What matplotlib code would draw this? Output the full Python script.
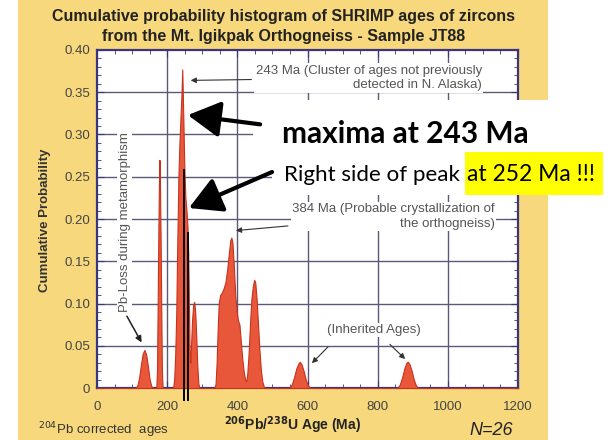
import matplotlib
matplotlib.use("Agg")
from matplotlib import pyplot as plt
from matplotlib.patches import Rectangle
from matplotlib.ticker import MultipleLocator
import numpy as np

# probability curve (age in Ma, cumulative probability)
ages = [0, 110, 115, 120, 125, 130, 135, 140, 145, 150, 155, 160,
        169, 171, 173, 174.5, 176.5, 178, 179.5, 181.5, 183, 185, 187,
        217, 220, 223, 226, 228, 230, 232, 235, 238, 241, 243, 245, 247, 249,
        252, 255, 258, 260, 262, 264, 266, 268, 271, 274, 277, 280, 283, 286,
        289, 292,
        335, 338, 341, 344, 347, 351, 356, 361, 366, 371, 376, 380, 383, 386,
        390, 394, 398, 402, 406, 410, 414, 418, 422, 425, 428, 432, 436, 440,
        444, 448, 451, 455, 459, 463, 467, 471, 476, 480,
        548, 555, 562, 568, 574, 578, 583, 589, 595, 601, 608,
        856, 863, 870, 876, 882, 886, 891, 897, 903, 909, 916, 1200]
prob = [0, 0, 0.003, 0.012, 0.027, 0.04, 0.045, 0.04, 0.026, 0.01, 0.002, 0,
        0, 0.02, 0.1, 0.17, 0.24, 0.27, 0.24, 0.17, 0.1, 0.02, 0,
        0, 0.01, 0.04, 0.09, 0.15, 0.2, 0.25, 0.29, 0.32, 0.35, 0.377, 0.34,
        0.30, 0.26, 0.225, 0.21, 0.19, 0.16, 0.10, 0.04, 0.03, 0.05, 0.08,
        0.098, 0.102, 0.09, 0.06, 0.025, 0.005, 0,
        0, 0.005, 0.03, 0.07, 0.1, 0.11, 0.113, 0.118, 0.125, 0.14, 0.16,
        0.175, 0.178, 0.172, 0.145, 0.11, 0.09, 0.08, 0.075, 0.055, 0.035,
        0.02, 0.01, 0.008, 0.015, 0.04, 0.075, 0.105, 0.12, 0.128, 0.125,
        0.105, 0.075, 0.045, 0.022, 0.008, 0.001, 0,
        0, 0.004, 0.013, 0.023, 0.029, 0.031, 0.028, 0.02, 0.01, 0.003, 0,
        0, 0.004, 0.013, 0.023, 0.03, 0.031, 0.028, 0.02, 0.01, 0.003, 0, 0]

xticks = [0, 200, 400, 600, 800, 1000, 1200]
xticklabels = ["0", "200", "400", "600", "800", "1000", "1200"]
yticks = [0, 0.05, 0.10, 0.15, 0.20, 0.25, 0.30, 0.35, 0.40]
yticklabels = ["0", "0.05", "0.10", "0.15", "0.20", "0.25", "0.30", "0.35", "0.40"]

# marker lines drawn on the original (age, top)
marks = [(247, 0.258), (258.5, 0.183)]

W, H = 611, 440
navy = "#3b3580"
grey = "#555555"

plt.rcParams["font.family"] = ["Liberation Sans", "DejaVu Sans"]

fig = plt.figure(figsize=(W / 100, H / 100), dpi=100)
fig.patch.set_facecolor("white")
fig.add_artist(Rectangle((18 / W, 0), 530 / W, 1, transform=fig.transFigure,
                         facecolor="#f7d87c", edgecolor="none", zorder=-1))

ax = fig.add_axes([97 / W, 52 / H, 421 / W, 338 / H])
ax.set_facecolor("white")
ax.fill_between(ages, prob, 0, facecolor="#e9573a", edgecolor="#c8321c",
                linewidth=0.8, zorder=3)
ax.set_xlim(0, 1200)
ax.set_ylim(0, 0.40)
ax.set_xticks(xticks)
ax.set_xticklabels(xticklabels)
ax.set_yticks(yticks)
ax.set_yticklabels(yticklabels)
ax.xaxis.set_minor_locator(MultipleLocator(50))
ax.yaxis.set_minor_locator(MultipleLocator(0.01))
ax.tick_params(which="both", direction="in", top=True, right=True,
               color=navy, labelcolor="#444444", labelsize=9.5)
ax.tick_params(which="major", length=5)
ax.tick_params(which="minor", length=3)
ax.tick_params(axis="x", pad=9)
ax.tick_params(axis="y", pad=5)
for s in ax.spines.values():
    s.set_color(navy)
    s.set_linewidth(1.6)
for x in xticks[1:-1]:
    ax.axvline(x, color="#5a5a78", lw=1, zorder=1)
for y in yticks[1:-1]:
    ax.axhline(y, color="#5a5a78", lw=1, zorder=1)

box = dict(facecolor="white", edgecolor="none", pad=1)
thin = dict(arrowstyle="-|>", color="#333333", lw=0.8, mutation_scale=8)
ax.annotate("243 Ma (Cluster of ages not previously\ndetected in N. Alaska)",
            xy=(259, 0.364), xytext=(1097, 0.367), ha="right", va="center",
            multialignment="right", fontsize=9.5, color=grey, linespacing=1.3,
            bbox=box, arrowprops=thin, zorder=4)
ax.annotate("384 Ma (Probable crystallization of\nthe orthogneiss)",
            xy=(388, 0.186), xytext=(1134, 0.203), ha="right", va="center",
            multialignment="right", fontsize=9.5, color=grey, linespacing=1.3,
            bbox=box, arrowprops=thin, zorder=4)
ax.annotate("Pb-Loss during metamorphism", xy=(131, 0.051), xytext=(79, 0.196),
            rotation=90, ha="center", va="center", fontsize=9.5, color=grey,
            bbox=box, zorder=4,
            arrowprops=dict(arrowstyle="-|>", color="#222222", lw=1.1,
                            mutation_scale=9, relpos=(0.5, 0)))
ax.text(790, 0.0686, "(Inherited Ages)", ha="center", va="center",
        fontsize=9.5, color=grey, bbox=box, zorder=4)
ax.annotate("", xy=(607, 0.027), xytext=(664, 0.051), arrowprops=thin, zorder=4)
ax.annotate("", xy=(884, 0.032), xytext=(829, 0.054), arrowprops=thin, zorder=4)

for age, top in marks:
    ax.plot([age, age], [top, -0.0142], color="black", lw=1.4,
            clip_on=False, zorder=4)

# white boxes pasted over the chart
for x0, y0, x1, y1 in [(253, 100, 611, 153), (272, 152, 611, 195)]:
    ax.add_patch(Rectangle((x0 / W, 1 - y1 / H), (x1 - x0) / W, (y1 - y0) / H,
                           transform=fig.transFigure, facecolor="white",
                           edgecolor="none", clip_on=False, zorder=5))
ax.add_patch(Rectangle((465 / W, 1 - 195 / H), 138 / W, 43 / H,
                       transform=fig.transFigure, facecolor="#ffff00",
                       edgecolor="none", clip_on=False, zorder=5.5))

big = dict(arrowstyle="-|>,head_length=0.9,head_width=0.5", color="black",
           lw=3.0, mutation_scale=22, shrinkA=0, shrinkB=0)
ax.annotate("", xy=(259, 0.323), xytext=(465, 0.312), arrowprops=big,
            annotation_clip=False, zorder=6)
ax.annotate("", xy=(262, 0.213), xytext=(499, 0.2556), arrowprops=big,
            annotation_clip=False, zorder=6)

fig.text(282 / W, 1 - 143 / H, "maxima at 243 Ma", family="Lato",
         fontweight="bold", fontsize=21.5, va="baseline", zorder=7)
fig.text(284 / W, 1 - 181 / H, "Right side of peak", family="Lato",
         fontsize=16.1, va="baseline", zorder=7)
fig.text(467 / W, 1 - 181 / H, "at 252 Ma !!!", family="Lato",
         fontsize=16.5, va="baseline", zorder=7)

fig.text(284 / W, 1 - 17 / H,
         "Cumulative probability histogram of SHRIMP ages of zircons",
         ha="center", va="center", fontsize=11.5, fontweight="bold",
         color="#222222")
fig.text(284 / W, 1 - 36 / H, "from the Mt. Igikpak Orthogneiss - Sample JT88",
         ha="center", va="center", fontsize=11.5, fontweight="bold",
         color="#222222")
fig.text(45 / W, 1 - 220 / H, "Cumulative Probability", rotation=90,
         ha="center", va="center", fontsize=9.5, fontweight="bold",
         color="#333333")
fig.text(292 / W, 1 - 425 / H, r"$^{\mathbf{206}}$Pb/$^{\mathbf{238}}$U Age (Ma)",
         ha="center", va="center", fontsize=10, fontweight="bold",
         color="#222222")
fig.text(38 / W, 1 - 430 / H, r"$^{204}$Pb corrected  ages", ha="left",
         va="center", fontsize=9.5, color="#333333")
fig.text(491 / W, 1 - 430 / H, "N=26", ha="center", va="center",
         fontsize=13, style="italic", color="#222222")

fig.savefig("out.png", dpi=100)
